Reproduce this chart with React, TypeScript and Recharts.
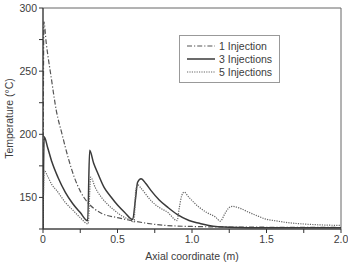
import React from 'react';
import { LineChart, Line, XAxis, YAxis, Legend, ReferenceArea } from 'recharts';

// 1 injection (dash-dot)
const oneInjX = [0, 0.006, 0.022, 0.055, 0.089, 0.128, 0.17, 0.21, 0.25, 0.3, 0.35, 0.4, 0.5, 0.6, 0.7, 0.8, 1.0, 1.25, 1.5, 2.0];
const oneInjT = [125, 289, 272, 245, 219, 200, 181, 166, 155, 146, 140.5, 137, 134, 131.5, 129.5, 128, 127, 126.6, 126.4, 126.2];

// 3 injections (solid)
const threeInjX = [0, 0.008, 0.03, 0.06, 0.1, 0.15, 0.2, 0.25, 0.3, 0.313, 0.34, 0.369, 0.41, 0.458, 0.5, 0.547, 0.602, 0.62, 0.635, 0.658, 0.69, 0.724, 0.78, 0.836, 0.9, 0.98, 1.05, 1.113, 1.247, 1.5, 2.0];
const threeInjT = [125, 198, 190, 178, 166, 154, 145, 138, 131.5, 187.3, 177, 168.8, 158, 150.2, 144, 138.3, 132.5, 148, 162, 164.8, 161, 155.6, 148, 142.3, 136.5, 131.7, 129.5, 127.8, 126.4, 126, 126];

// 5 injections (dotted)
const fiveInjX = [0, 0.008, 0.03, 0.06, 0.091, 0.15, 0.202, 0.25, 0.303, 0.32, 0.35, 0.391, 0.43, 0.48, 0.52, 0.569, 0.611, 0.622, 0.635, 0.66, 0.724, 0.78, 0.836, 0.9, 0.915, 0.93, 0.947, 0.98, 1.047, 1.1, 1.158, 1.19, 1.22, 1.245, 1.27, 1.32, 1.38, 1.447, 1.49, 1.56, 1.647, 1.72, 1.8, 1.9, 2.0];
const fiveInjT = [125, 171.5, 167, 160, 155.6, 146, 139.7, 134, 129, 166, 158, 150.2, 145, 139.7, 136, 133, 130.5, 155, 160, 157, 147.6, 142, 138.3, 131.7, 142, 151, 154.2, 150, 142.3, 138, 134.4, 131.2, 137, 141.5, 142.9, 141.5, 138.3, 135, 133, 131.5, 130, 129.2, 128.6, 128.1, 127.8];

const xTicks = [0, 0.25, 0.5, 0.75, 1, 1.25, 1.5, 1.75, 2];
const yTicks = [125, 150, 175, 200, 225, 250, 275, 300];

const toPoints = (xs: number[], ts: number[]) => xs.map((x, i) => ({ x, t: ts[i] }));

const series = [
  { name: '1 Injection', data: toPoints(oneInjX, oneInjT), stroke: '#555', width: 1.2, dash: '5 2 1.2 2' },
  { name: '3 Injections', data: toPoints(threeInjX, threeInjT), stroke: '#3a3a3a', width: 1.5, dash: undefined },
  { name: '5 Injections', data: toPoints(fiveInjX, fiveInjT), stroke: '#666', width: 1.2, dash: '1.2 1.2' },
];

const FONT = '"Liberation Sans", Arial, sans-serif';
const TEXT = '#3c3c3c';

const formatX = (v: number) => {
  if (v === 0) return '0';
  return (v * 2) % 1 === 0 ? v.toFixed(1) : '';
};
const formatY = (v: number) => (v % 50 === 0 ? String(v) : '');

const LegendBox = () => (
  <div style={{ border: '1px solid #999', background: '#fff', padding: '3px 0 4px 0', fontFamily: FONT, fontSize: 10.5, color: TEXT }}>
    {series.map((s) => (
      <div key={s.name} style={{ display: 'flex', alignItems: 'center', height: 13 }}>
        <svg width={28} height={6} style={{ marginLeft: 7, marginRight: 4 }}>
          <line x1={0} y1={3} x2={28} y2={3} stroke={s.stroke} strokeWidth={s.width} strokeDasharray={s.dash} />
        </svg>
        <span>{s.name}</span>
      </div>
    ))}
  </div>
);

export default function App() {
  return (
    <div style={{ position: 'absolute', left: 0, top: 0, width: 348, height: 263, background: '#fff' }}>
      <LineChart width={348} height={263} margin={{ top: 8, right: 7, left: 0, bottom: 0 }}>
        <XAxis
          dataKey="x"
          type="number"
          domain={[0, 2]}
          ticks={xTicks}
          tickFormatter={formatX}
          allowDataOverflow
          height={34}
          tickSize={4}
          tickMargin={3}
          stroke="#333"
          tick={{ fill: TEXT, fontSize: 10.5, fontFamily: FONT }}
          label={{ value: 'Axial coordinate (m)', position: 'insideBottom', offset: 3, fill: TEXT, fontSize: 10.5, fontFamily: FONT }}
        />
        <YAxis
          dataKey="t"
          type="number"
          domain={[125, 300]}
          ticks={yTicks}
          tickFormatter={formatY}
          allowDataOverflow
          width={43}
          tickSize={4}
          tickMargin={2}
          stroke="#333"
          tick={{ fill: TEXT, fontSize: 10.5, fontFamily: FONT }}
          label={{ value: 'Temperature (°C)', angle: -90, position: 'insideLeft', offset: 9, fill: TEXT, fontSize: 10.5, fontFamily: FONT, style: { textAnchor: 'middle' } }}
        />
        <ReferenceArea x1={0} x2={2} y1={125} y2={300} fill="none" stroke="#666" strokeWidth={1} ifOverflow="visible" />
        {series.map((s) => (
          <Line
            key={s.name}
            data={s.data}
            dataKey="t"
            name={s.name}
            type="monotone"
            stroke={s.stroke}
            strokeWidth={s.width}
            strokeDasharray={s.dash}
            dot={false}
            activeDot={false}
            isAnimationActive={false}
          />
        ))}
        <Legend
          layout="vertical"
          align="center"
          verticalAlign="middle"
          content={LegendBox}
          wrapperStyle={{ left: 179, top: 35, width: 101, height: 'auto' }}
        />
      </LineChart>
    </div>
  );
}
